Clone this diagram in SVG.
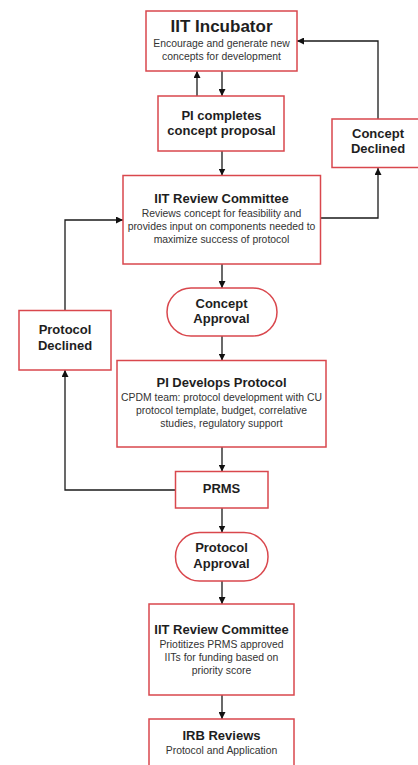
<svg xmlns="http://www.w3.org/2000/svg" width="418" height="765" viewBox="0 0 418 765">
  <style>
    .box { fill: #ffffff; stroke: #d9474d; stroke-width: 1.5; }
    .t { font-family: "Liberation Sans", Arial, sans-serif; font-weight: bold; font-size: 13px; fill: #1e1e1e; text-anchor: middle; }
    .big { font-size: 17px; }
    .s { font-family: "Liberation Sans", Arial, sans-serif; font-size: 10.4px; fill: #333333; text-anchor: middle; }
    .edge { fill: none; stroke: #1a1a1a; stroke-width: 1.3; marker-end: url(#arrow); }
  </style>
  <defs>
    <marker id="arrow" viewBox="0 0 10 10" refX="10" refY="5" markerWidth="7" markerHeight="7" markerUnits="userSpaceOnUse" orient="auto">
      <path d="M0,0 L10,5 L0,10 Z" fill="#111111"/>
    </marker>
  </defs>
  <rect width="418" height="765" fill="#ffffff"/>

  <g id="connectors">
    <path class="edge" d="M222,71 V96"/>
    <path class="edge" d="M197,96 V71"/>
    <path class="edge" d="M222,151 V175.5"/>
    <path class="edge" d="M321,218 H378 V168"/>
    <path class="edge" d="M378,119 V41 H297"/>
    <path class="edge" d="M222,264 V288"/>
    <path class="edge" d="M222,336 V360.5"/>
    <path class="edge" d="M65,310.5 V220 H123"/>
    <path class="edge" d="M222,447 V471.5"/>
    <path class="edge" d="M175.5,490 H65 V370"/>
    <path class="edge" d="M222,508 V532.5"/>
    <path class="edge" d="M222,581 V604"/>
    <path class="edge" d="M222,695 V719"/>
  </g>

  <g id="iit-incubator">
    <rect class="box" x="146" y="11" width="151" height="60"/>
    <text class="t big" x="221.5" y="32">IIT Incubator</text>
    <text class="s" x="221.5" y="47">Encourage and generate new</text>
    <text class="s" x="221.5" y="60">concepts for development</text>
  </g>

  <g id="pi-completes">
    <rect class="box" x="158" y="96" width="126" height="55"/>
    <text class="t" x="221.5" y="119.5">PI completes</text>
    <text class="t" x="221.5" y="134.5">concept proposal</text>
  </g>

  <g id="concept-declined">
    <rect class="box" x="332" y="119" width="87" height="48.5"/>
    <text class="t" x="378" y="137.5">Concept</text>
    <text class="t" x="378" y="153">Declined</text>
  </g>

  <g id="iit-review-committee">
    <rect class="box" x="123" y="175.5" width="197.5" height="88.5"/>
    <text class="t" x="221.5" y="202.5">IIT Review Committee</text>
    <text class="s" x="221.5" y="216.5">Reviews concept for feasibility and</text>
    <text class="s" x="221.5" y="229.5">provides input on components needed to</text>
    <text class="s" x="221.5" y="242.5">maximize success of protocol</text>
  </g>

  <g id="concept-approval">
    <rect class="box" x="167" y="288" width="110" height="48" rx="24" ry="24"/>
    <text class="t" x="221.5" y="307.5">Concept</text>
    <text class="t" x="221.5" y="323">Approval</text>
  </g>

  <g id="protocol-declined">
    <rect class="box" x="19" y="310.5" width="92" height="59.5"/>
    <text class="t" x="65" y="334">Protocol</text>
    <text class="t" x="65" y="350">Declined</text>
  </g>

  <g id="pi-develops-protocol">
    <rect class="box" x="117" y="360.5" width="209" height="86.5"/>
    <text class="t" x="221.5" y="386.5">PI Develops Protocol</text>
    <text class="s" x="221.5" y="401">CPDM team: protocol development with CU</text>
    <text class="s" x="221.5" y="414">protocol template, budget, correlative</text>
    <text class="s" x="221.5" y="426.5">studies, regulatory support</text>
  </g>

  <g id="prms">
    <rect class="box" x="175.5" y="471.5" width="92.5" height="36.5"/>
    <text class="t" x="221.5" y="493">PRMS</text>
  </g>

  <g id="protocol-approval">
    <rect class="box" x="175.5" y="532.5" width="92.5" height="48.5" rx="24" ry="24"/>
    <text class="t" x="221.5" y="552">Protocol</text>
    <text class="t" x="221.5" y="567.5">Approval</text>
  </g>

  <g id="iit-review-funding">
    <rect class="box" x="149" y="604" width="145" height="91"/>
    <text class="t" x="221.5" y="634">IIT Review Committee</text>
    <text class="s" x="221.5" y="647.5">Priotitizes PRMS approved</text>
    <text class="s" x="221.5" y="661">IITs for funding based on</text>
    <text class="s" x="221.5" y="674">priority score</text>
  </g>

  <g id="irb-reviews">
    <rect class="box" x="149" y="719" width="145" height="60"/>
    <text class="t" x="221.5" y="740">IRB Reviews</text>
    <text class="s" x="221.5" y="754">Protocol and Application</text>
  </g>
</svg>
